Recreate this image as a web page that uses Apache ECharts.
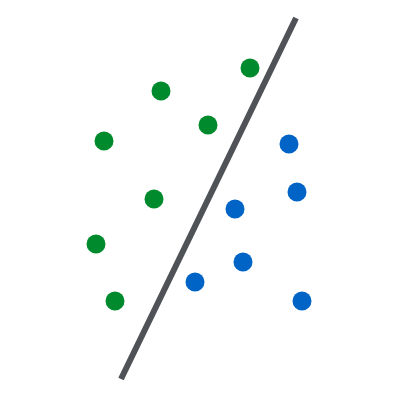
<!DOCTYPE html>
<html>
<head>
<meta charset="utf-8">
<script src="https://cdn.jsdelivr.net/npm/echarts@6/dist/echarts.min.js"></script>
<style>
html, body { margin: 0; padding: 0; background: #fff; }
#main { width: 406px; height: 404px; }
</style>
</head>
<body>
<div id="main"></div>
<script>
// points in a 406 x 404 coordinate space, y measured upward
var greenPoints = [[250, 336], [161, 313], [208, 279], [104, 263], [154, 205], [96, 160], [115, 103]];
var bluePoints = [[289, 260], [297, 212], [235, 195], [243, 142], [195, 122], [302, 103]];
var dividerLine = [[296, 386], [121, 25]];

var myChart = echarts.init(document.getElementById('main'));
option = {
    animation: false,
    grid: { left: 0, right: 0, top: 0, bottom: 0 },
    xAxis: { type: 'value', min: 0, max: 406, show: false },
    yAxis: { type: 'value', min: 0, max: 404, show: false },
    series: [
        {
            type: 'line',
            data: dividerLine,
            symbol: 'none',
            lineStyle: { color: '#4f5257', width: 6 },
            z: 1
        },
        {
            type: 'scatter',
            data: greenPoints,
            symbolSize: 19,
            itemStyle: { color: '#008a2e', opacity: 1 },
            z: 2
        },
        {
            type: 'scatter',
            data: bluePoints,
            symbolSize: 19,
            itemStyle: { color: '#0063c6', opacity: 1 },
            z: 2
        }
    ]
};
myChart.setOption(option);
</script>
</body>
</html>
